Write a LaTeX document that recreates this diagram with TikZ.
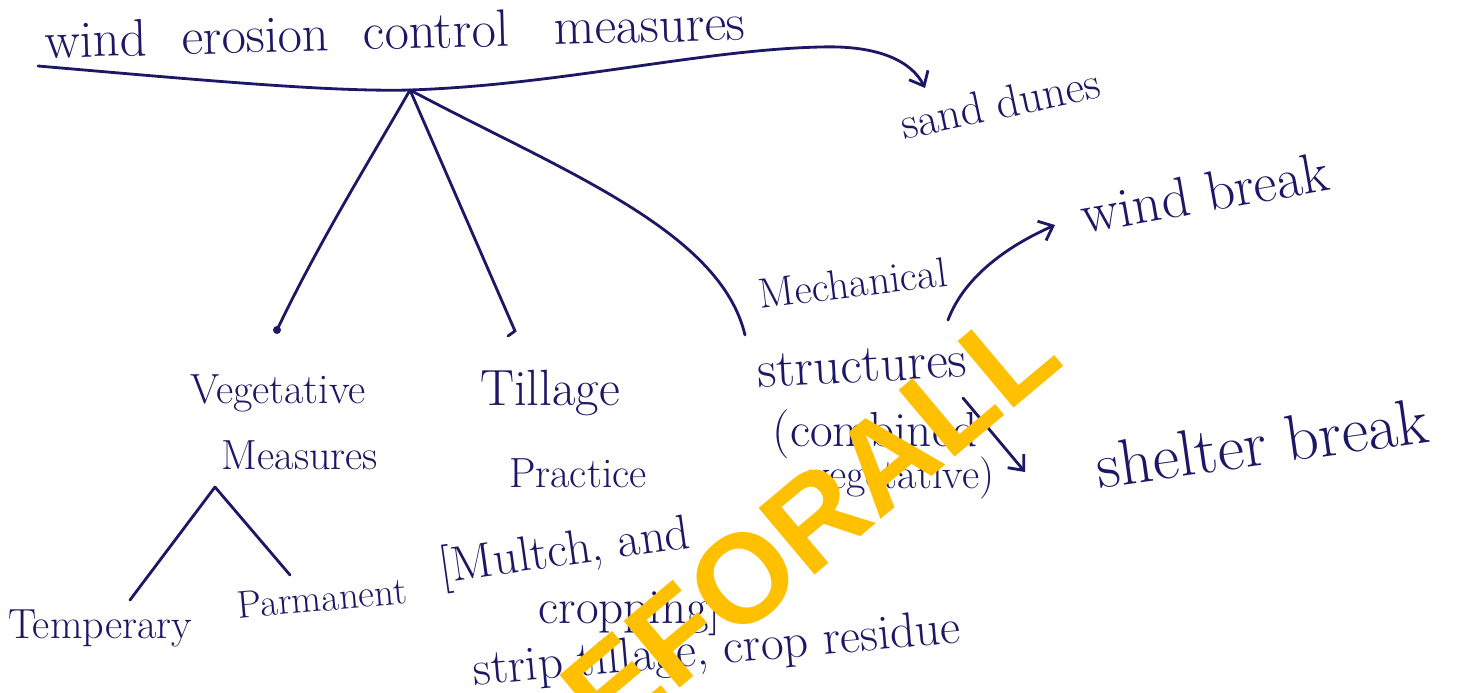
\documentclass[tikz,border=0pt]{standalone}
\usepackage{fontspec}
\usepackage{tikz}
\usetikzlibrary{arrows.meta}
\newfontfamily\wmfont{Liberation Sans}
\definecolor{ink}{RGB}{28,24,102}
\definecolor{wmark}{RGB}{255,192,0}

\begin{document}
\begin{tikzpicture}[x=0.02cm,y=-0.02cm,
  hand/.style={text=ink, font=\fontsize{24}{30}\selectfont, inner sep=0pt},
  pen/.style={ink, line width=1.6pt, line cap=round},
  tip/.style={-{Straight Barb[length=7pt,width=12pt]}}]
\clip (0,0) rectangle (1465,693);
\fill[white] (0,0) rectangle (1465,693);

% title and the underline that runs on to sand dunes
\node[hand, font=\fontsize{30}{34}\selectfont, rotate=1.5] (title) at (395,31)
  {wind\hspace{.35em} erosion\hspace{.35em} control\hspace{.55em} measures};
\node[hand, font=\fontsize{26}{30}\selectfont, rotate=12] (sand) at (1000,103) {sand dunes};
\coordinate (ulstart) at (38,66);
\coordinate (apex) at (410,90);
\coordinate (sandtip) at (925,88);
\draw[pen, tip] (ulstart) .. controls (200,80) and (330,92) .. (apex)
  .. controls (560,85) and (700,50) .. (820,47) .. controls (880,45) and (912,62) .. (sandtip);

% the three main branches
\coordinate (vegdot) at (277,330);
\coordinate (tilend) at (515,331);
\coordinate (mechend) at (745,335);
\draw[pen] (apex) .. controls (370,160) and (320,240) .. (vegdot);
\fill[ink] (vegdot) circle (4);
\draw[pen] (apex) -- (tilend) -- ++(-7,5);
\draw[pen] (apex) .. controls (560,170) and (720,230) .. (mechend);

% vegetative measures
\node[hand] (veg) at (278,393) {Vegetative};
\node[hand] (vegm) at (300,455) {Measures};
\coordinate (vegapex) at (215,487);
\node[hand] (temp) at (100,628) {Temperary};
\node[hand, font=\fontsize{22}{26}\selectfont, rotate=5] (perm) at (322,598) {Parmanent};
\draw[pen] (vegapex) -- (130,600);
\draw[pen] (vegapex) -- (290,575);

% tillage practice
\node[hand, font=\fontsize{29}{34}\selectfont] (till) at (550,393) {Tillage};
\node[hand] (prac) at (578,473) {Practice};
\node[hand, font=\fontsize{28}{32}\selectfont, rotate=8] (mulch) at (565,553) {[Multch, and};
\node[hand, font=\fontsize{28}{32}\selectfont] (crop) at (630,611) {cropping]};
\node[hand, font=\fontsize{28}{32}\selectfont, rotate=5] (strip) at (717,652) {strip tillage, crop residue};

% mechanical structures
\node[hand, rotate=7] (mech) at (853,283) {Mechanical};
\node[hand, font=\fontsize{30}{34}\selectfont, rotate=3] (struct) at (862,366) {structures};
\node[hand, font=\fontsize{28}{32}\selectfont] (comb) at (875,434) {(combined};
\node[hand] (vegt) at (902,478) {vegetative)};
\node[hand, font=\fontsize{32}{36}\selectfont, rotate=10] (wind) at (1205,193) {wind break};
\node[hand, font=\fontsize{37}{42}\selectfont, rotate=8] (shelter) at (1262,443) {shelter break};
\coordinate (mbstart) at (948,320);
\coordinate (windtip) at (1055,225);
\draw[pen, tip] (mbstart) .. controls (965,275) and (1010,245) .. (windtip);
\coordinate (sbstart) at (963,398);
\coordinate (sheltertip) at (1025,472);
\draw[pen, tip] (sbstart) -- (sheltertip);

% watermark
\node[text=wmark, font=\wmfont\bfseries\fontsize{72}{74}\selectfont, rotate=40] (mark) at (810,522) {EFORALL};
\end{tikzpicture}
\end{document}
